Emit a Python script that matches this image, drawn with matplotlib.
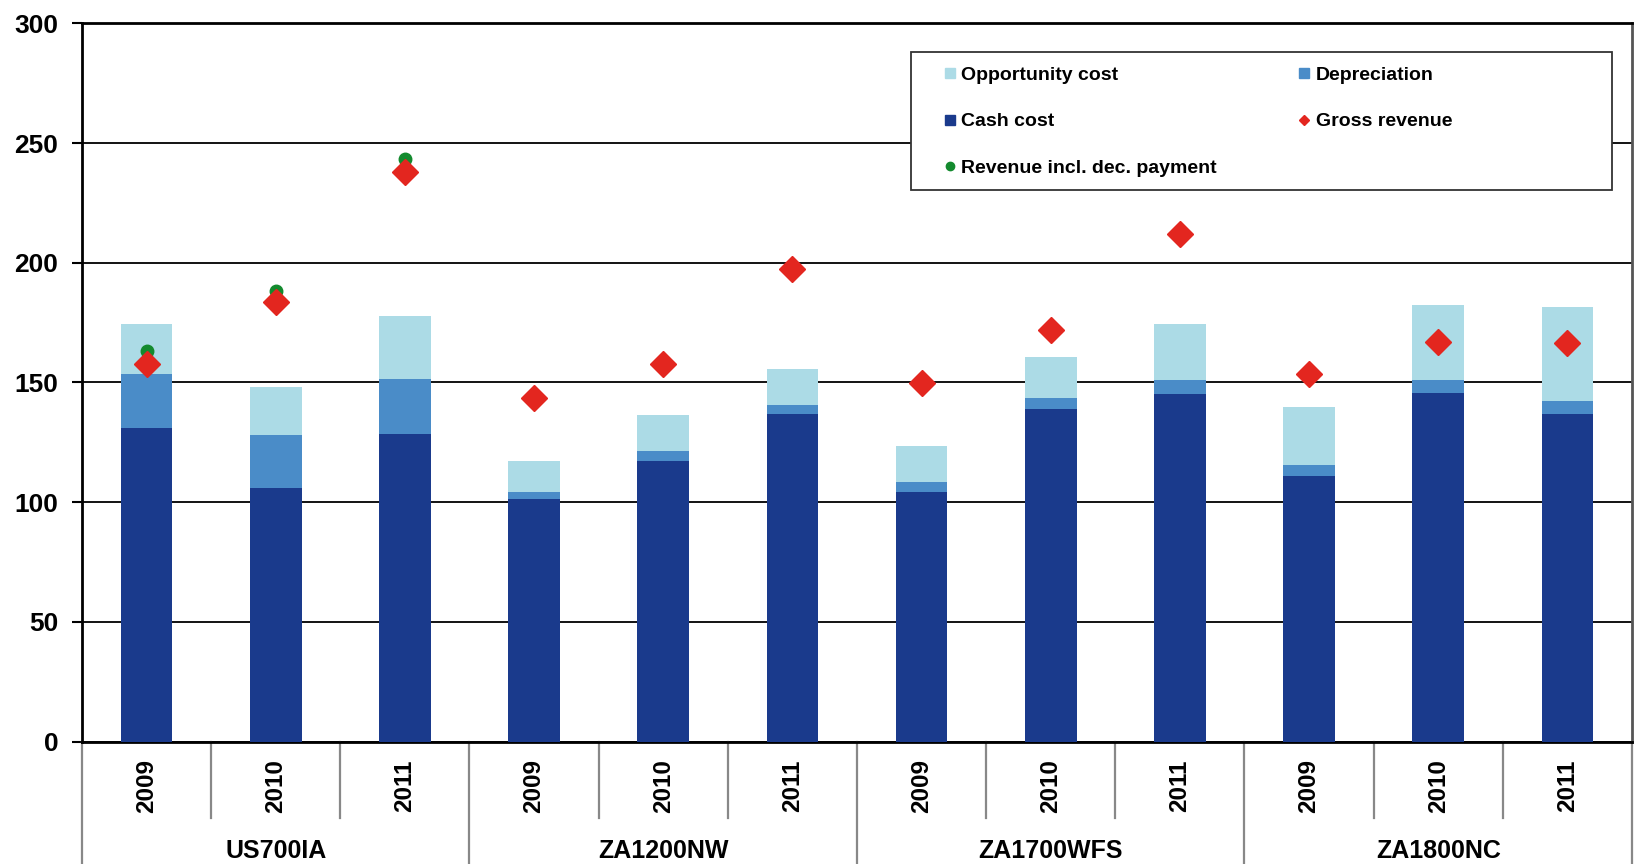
import numpy as np
import matplotlib
matplotlib.use('Agg')
import matplotlib.pyplot as plt
from matplotlib.lines import Line2D
from matplotlib.patches import Rectangle

plt.rcParams['font.family'] = ['Liberation Sans', 'DejaVu Sans']
plt.rcParams['font.weight'] = 'bold'

# Farm types and years
farms = ['US700IA', 'ZA1200NW', 'ZA1700WFS', 'ZA1800NC']
years = ['2009', '2010', '2011']

# Cost components (stacked) and revenue per farm/year
cash_cost = [131.1, 105.9, 128.5, 101.2, 117.2, 137.0, 104.4, 139.1, 145.1, 110.9, 145.6, 137.0]
depreciation = [22.4, 22.2, 23.0, 3.2, 4.3, 3.7, 4.2, 4.3, 5.8, 4.6, 5.3, 5.3]
opportunity_cost = [20.9, 20.1, 26.1, 12.8, 14.9, 14.9, 15.0, 17.1, 23.5, 24.1, 31.5, 39.1]
gross_revenue = [157.6, 183.5, 238.1, 143.4, 157.9, 197.4, 149.9, 171.9, 211.9, 153.7, 166.9, 166.4]
revenue_incl_dec = [163.3, 188.2, 243.4] + [np.nan] * 9

c_cash = '#1a3a8c'
c_dep = '#4a8cc8'
c_opp = '#acdbe6'
c_gross = '#e3261f'
c_rev = '#138a2e'

fig = plt.figure(figsize=(16.38, 8.64), dpi=100)
ax = fig.add_axes([82 / 1638, 1 - 741.6 / 864, 1550 / 1638, 718.3 / 864])

x = np.arange(len(cash_cost))
cash = np.array(cash_cost)
dep = np.array(depreciation)
opp = np.array(opportunity_cost)
w = 0.4

ax.bar(x, cash, w, color=c_cash, zorder=3)
ax.bar(x, dep, w, bottom=cash, color=c_dep, zorder=3)
ax.bar(x, opp, w, bottom=cash + dep, color=c_opp, zorder=3)
ax.plot(x, gross_revenue, linestyle='none', marker='D', ms=13.5, color=c_gross, zorder=5)
ax.plot(x, revenue_incl_dec, linestyle='none', marker='o', ms=9, color=c_rev, zorder=4)

ax.set_xlim(-0.5, len(x) - 0.5)
ax.set_ylim(0, 300)
ax.set_yticks(np.arange(0, 301, 50))
ax.yaxis.grid(True, color='black', linewidth=1.3, zorder=1)
ax.set_axisbelow(True)
ax.tick_params(axis='y', labelsize=19, length=7, width=1.5, pad=10)
ax.set_xticks([])

for s in ['left', 'bottom', 'top']:
    ax.spines[s].set_linewidth(2)
    ax.spines[s].set_color('black')
ax.spines['right'].set_color('#555555')
ax.spines['right'].set_linewidth(2)

# Two-level category axis below the plot
tr = ax.get_xaxis_transform()
for i in range(len(x)):
    ax.text(x[i], -0.062, years[i % 3], rotation=90, ha='center', va='center',
            fontsize=17.5, fontweight='bold', transform=tr)
for g, name in enumerate(farms):
    ax.text(g * 3 + 1, -0.1523, name, ha='center', va='center',
            fontsize=18, fontweight='bold', transform=tr)
for b in np.arange(-0.5, len(x), 1.0):
    if (b + 0.5) % 3 == 0:
        ax.plot([b, b], [0, -0.31], color='#888888', lw=1.6, transform=tr, clip_on=False)
    else:
        ax.plot([b, b], [0, -0.1063], color='#888888', lw=1.6, transform=tr, clip_on=False)

# Legend frame and two legend columns
fig.patches.append(Rectangle((911 / 1638, 1 - 190 / 864), 701 / 1638, 138 / 864,
                             transform=fig.transFigure, facecolor='white',
                             edgecolor='#333333', lw=1.3, zorder=10))

sq = dict(linestyle='none', marker='s', ms=7.5)
h1 = [Line2D([], [], color=c_opp, **sq),
      Line2D([], [], color=c_cash, **sq),
      Line2D([], [], linestyle='none', marker='o', ms=6, color=c_rev)]
l1 = ['Opportunity cost', 'Cash cost', 'Revenue incl. dec. payment']
h2 = [Line2D([], [], color=c_dep, **sq),
      Line2D([], [], linestyle='none', marker='D', ms=5.5, color=c_gross)]
l2 = ['Depreciation', 'Gross revenue']

leg_kw = dict(loc='upper left', frameon=False, fontsize=14, handlelength=0.6,
              handletextpad=0.3, labelspacing=1.5, borderpad=0, borderaxespad=0,
              bbox_transform=fig.transFigure)
leg1 = fig.legend(h1, l1, bbox_to_anchor=(944 / 1638, 1 - 66 / 864), **leg_kw)
leg2 = fig.legend(h2, l2, bbox_to_anchor=(1298 / 1638, 1 - 66 / 864), **leg_kw)
for lg in (leg1, leg2):
    lg.set_zorder(11)
    for t in lg.get_texts():
        t.set_fontweight('bold')

fig.savefig('out.png', dpi=100)
